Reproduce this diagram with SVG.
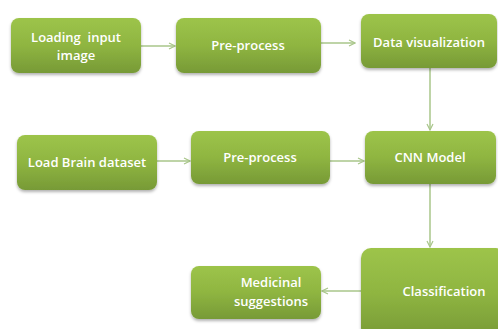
<svg xmlns="http://www.w3.org/2000/svg" width="498" height="329" viewBox="0 0 498 329">
<defs>
<linearGradient id="g" x1="0" y1="0" x2="0" y2="1">
<stop offset="0" stop-color="#9dc44a"/>
<stop offset="0.5" stop-color="#8fb541"/>
<stop offset="1" stop-color="#779a36"/>
</linearGradient>
<filter id="sh" x="-10%" y="-10%" width="120%" height="130%">
<feDropShadow dx="0" dy="2" stdDeviation="1.5" flood-color="#000" flood-opacity="0.3"/>
</filter>
<marker id="ah" markerWidth="8" markerHeight="8" refX="7" refY="4" orient="auto" markerUnits="userSpaceOnUse">
<path d="M1,1 L7,4 L1,7" fill="none" stroke="#a9c68a" stroke-width="1.2"/>
</marker>
</defs>
<style>
.box{fill:url(#g);filter:url(#sh);}
.t{fill:#ffffff;font-family:"Open Sans","Liberation Sans",sans-serif;font-size:13px;font-weight:600;text-anchor:middle;}
.c{stroke:#a9c68a;stroke-width:1.5;fill:none;marker-end:url(#ah);}
</style>
<rect width="498" height="329" fill="#ffffff"/>
<g id="connectors">
<line class="c" x1="141" y1="46" x2="175" y2="46"/>
<line class="c" x1="321" y1="43" x2="355" y2="43"/>
<line class="c" x1="430" y1="68" x2="430" y2="130"/>
<line class="c" x1="157" y1="161" x2="190" y2="161"/>
<line class="c" x1="330" y1="161" x2="364" y2="161"/>
<line class="c" x1="430" y1="184" x2="430" y2="247"/>
<line class="c" x1="361" y1="291" x2="322" y2="291"/>
</g>
<g id="n1"><rect class="box" x="11" y="18" width="130" height="55" rx="8"/><text class="t" x="76" y="42">Loading&#160; input</text><text class="t" x="76" y="60">image</text></g>
<g id="n2"><rect class="box" x="176" y="18" width="145" height="55" rx="8"/><text class="t" x="248" y="50">Pre-process</text></g>
<g id="n3"><rect class="box" x="361" y="14" width="136" height="54" rx="8"/><text class="t" x="429" y="47">Data visualization</text></g>
<g id="n4"><rect class="box" x="17" y="135" width="140" height="55" rx="8"/><text class="t" x="87" y="167">Load Brain dataset</text></g>
<g id="n5"><rect class="box" x="191" y="131" width="139" height="53" rx="8"/><text class="t" x="260" y="162">Pre-process</text></g>
<g id="n6"><rect class="box" x="365" y="131" width="131" height="53" rx="8"/><text class="t" x="430" y="162">CNN Model</text></g>
<g id="n7"><rect class="box" x="361" y="248" width="145" height="90" rx="10"/><text class="t" x="444" y="296">Classification</text></g>
<g id="n8"><rect class="box" x="191" y="266" width="130" height="53" rx="8"/><text class="t" x="271" y="287">Medicinal</text><text class="t" x="271" y="306">suggestions</text></g>
</svg>
